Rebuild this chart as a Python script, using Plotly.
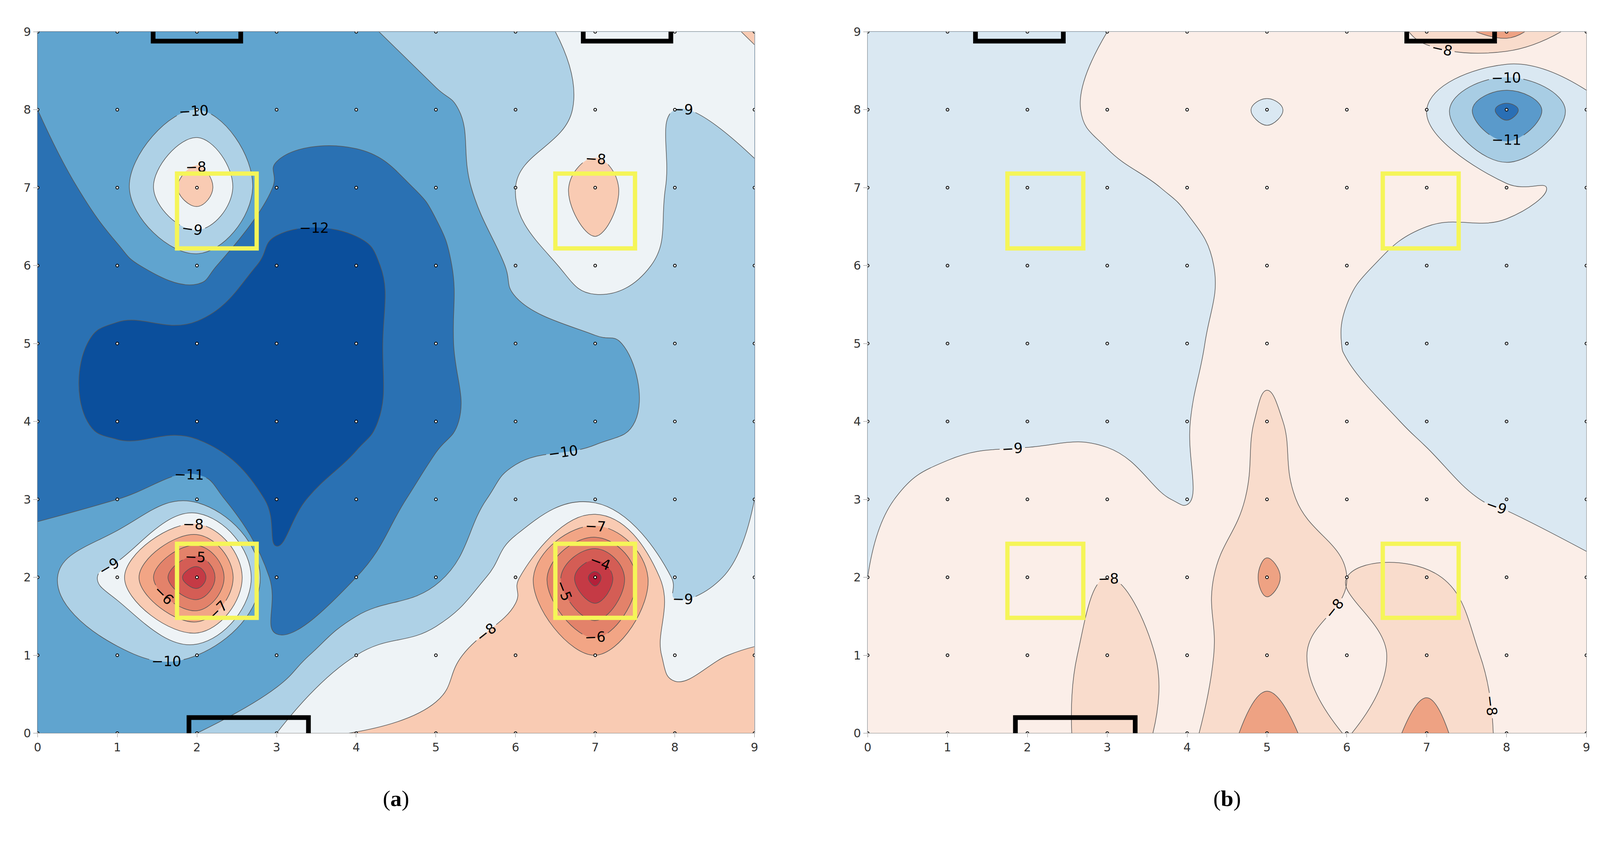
import plotly.graph_objects as go
from plotly.subplots import make_subplots

xs = list(range(10))
ys = list(range(10))
# z[y][x]
za = [
 [-10.3,-10.3,-10.0,-9.0,-7.9,-7.8,-7.7,-7.6,-7.6,-7.3],
 [-10.5,-10.2,-10.0,-10.7,-9.0,-8.3,-7.4,-7.0,-8.2,-7.9],
 [-10.5,-8.5,-3.0,-11.8,-11.0,-10.2,-8.3,-2.5,-9.3,-8.8],
 [-11.2,-11.0,-10.3,-12.3,-11.5,-10.7,-9.6,-9.3,-9.2,-9.0],
 [-11.5,-12.3,-12.5,-12.6,-12.3,-11.2,-10.5,-10.3,-9.7,-9.3],
 [-11.5,-12.3,-12.6,-12.6,-12.4,-11.2,-10.3,-10.2,-9.6,-9.3],
 [-11.6,-11.2,-10.5,-12.5,-12.3,-11.3,-9.8,-8.3,-9.3,-9.4],
 [-11.5,-10.5,-7.2,-11.2,-11.5,-10.8,-9.0,-7.5,-9.2,-9.3],
 [-11.0,-10.5,-10.0,-10.6,-10.5,-10.2,-9.5,-8.8,-9.0,-8.5],
 [-10.5,-10.5,-10.5,-10.5,-10.2,-9.5,-9.3,-8.7,-8.5,-7.9],
]
zb = [
 [-8.7,-8.8,-8.5,-7.6,-8.3,-6.3,-8.1,-6.5,-8.3,-8.7],
 [-8.8,-8.8,-8.5,-7.7,-8.2,-7.6,-8.4,-7.6,-8.2,-8.7],
 [-9.0,-8.8,-8.8,-8.0,-8.6,-6.8,-8.0,-7.9,-8.4,-8.9],
 [-9.05,-8.9,-8.8,-8.8,-9.05,-7.6,-8.7,-8.8,-9.1,-9.2],
 [-9.1,-9.1,-9.1,-9.1,-9.05,-7.8,-8.8,-9.1,-9.2,-9.3],
 [-9.3,-9.3,-9.3,-9.2,-9.2,-8.3,-9.05,-9.2,-9.3,-9.3],
 [-9.3,-9.3,-9.3,-9.2,-9.1,-8.8,-8.95,-9.1,-9.3,-9.3],
 [-9.3,-9.3,-9.3,-9.1,-8.95,-8.8,-8.8,-8.9,-8.8,-9.2],
 [-9.3,-9.3,-9.2,-8.9,-8.8,-9.05,-8.8,-9.0,-12.5,-9.1],
 [-9.3,-9.3,-9.2,-9.0,-8.8,-8.7,-8.7,-7.8,-6.5,-8.7],
]
# colour of band below -13, then band [L, L+1] for each level L = -13 .. -3
colors_a = ["#0b4f9c","#0b4f9c","#2a71b3","#60a4cf","#aed1e6","#eef3f6","#f9cbb3",
            "#f2a585","#e3826a","#d45d55","#c53a45","#b4203a"]
colors_b = ["#2a6fb5","#2a6fb5","#5a9acb","#a8cde4","#dae8f2","#fbeee8","#f9dccc",
            "#eea283","#d45d55","#c53a45","#b4203a","#b4203a"]
yellow_a = [(1.75,6.22,2.75,7.18),(6.5,6.22,7.5,7.18),(1.75,1.48,2.75,2.43),(6.5,1.48,7.5,2.43)]
black_a = [(1.45,8.88,2.55,9.12),(6.85,8.88,7.95,9.12),(1.9,-0.08,3.4,0.2)]
yellow_b = [(1.75,6.22,2.7,7.18),(6.45,6.22,7.4,7.18),(1.75,1.48,2.7,2.43),(6.45,1.48,7.4,2.43)]
black_b = [(1.35,8.88,2.45,9.12),(6.75,8.88,7.85,9.12),(1.85,-0.08,3.35,0.2)]

def centred_scale(cols):
    m = len(cols) - 1
    cs = []
    for k, c in enumerate(cols):
        lo = max(0.0, (k - 0.5) / m); hi = min(1.0, (k + 0.5) / m)
        cs.append([lo, c]); cs.append([hi, c])
    return cs

W, H = 4100, 2120
fig = make_subplots(rows=1, cols=2)
for col, z, cols in [(1, za, colors_a), (2, zb, colors_b)]:
    fig.add_trace(go.Contour(x=xs, y=ys, z=z, colorscale=centred_scale(cols),
        contours=dict(start=-13, end=-3, size=1, coloring="fill", showlabels=True,
                      labelfont=dict(size=36, color="black", family="DejaVu Sans")),
        line=dict(color="#555555", width=1.5), line_smoothing=1.3, showscale=False), row=1, col=col)
    fig.add_trace(go.Scatter(x=[x for y in ys for x in xs], y=[y for y in ys for x in xs], mode="markers",
        marker=dict(size=7, color="white", line=dict(color="black", width=2)), showlegend=False,
        hoverinfo="skip"), row=1, col=col)

for col, yel, blk in [(1, yellow_a, black_a), (2, yellow_b, black_b)]:
    ax = "x" if col == 1 else "x2"; ay = "y" if col == 1 else "y2"
    for (x0, y0, x1, y1) in yel:
        fig.add_shape(type="rect", x0=x0, y0=y0, x1=x1, y1=y1, xref=ax, yref=ay,
                      line=dict(color="#f5f558", width=11))
    for (x0, y0, x1, y1) in blk:
        fig.add_shape(type="rect", x0=x0, y0=y0, x1=x1, y1=y1, xref=ax, yref=ay,
                      line=dict(color="black", width=12), fillcolor="rgba(0,0,0,0)")

axstyle = dict(range=[0, 9], tickvals=list(range(10)), showgrid=False, zeroline=False,
               showline=True, linecolor="#888888", mirror=True, ticks="outside", ticklen=10,
               tickcolor="#888888", tickfont=dict(size=30, color="#333333", family="DejaVu Sans"))
fig.update_xaxes(**axstyle)
fig.update_yaxes(**axstyle)
fig.update_layout(
    xaxis=dict(domain=[0.0192, 0.469]), xaxis2=dict(domain=[0.540, 0.991]),
    yaxis=dict(domain=[0.112, 0.973]), yaxis2=dict(domain=[0.112, 0.973]))
fig.add_annotation(text="(<b>a</b>)", x=0.244, xanchor="center", xref="paper", yref="paper",
                   y=0.032, yanchor="middle", showarrow=False, font=dict(size=58, family="Liberation Serif", color="black"))
fig.add_annotation(text="(<b>b</b>)", x=0.7655, xanchor="center", xref="paper", yref="paper",
                   y=0.032, yanchor="middle", showarrow=False, font=dict(size=58, family="Liberation Serif", color="black"))
fig.update_layout(width=W, height=H, plot_bgcolor="white", paper_bgcolor="white",
                  margin=dict(l=0, r=0, t=0, b=0), showlegend=False)
fig.write_html("out.html")
